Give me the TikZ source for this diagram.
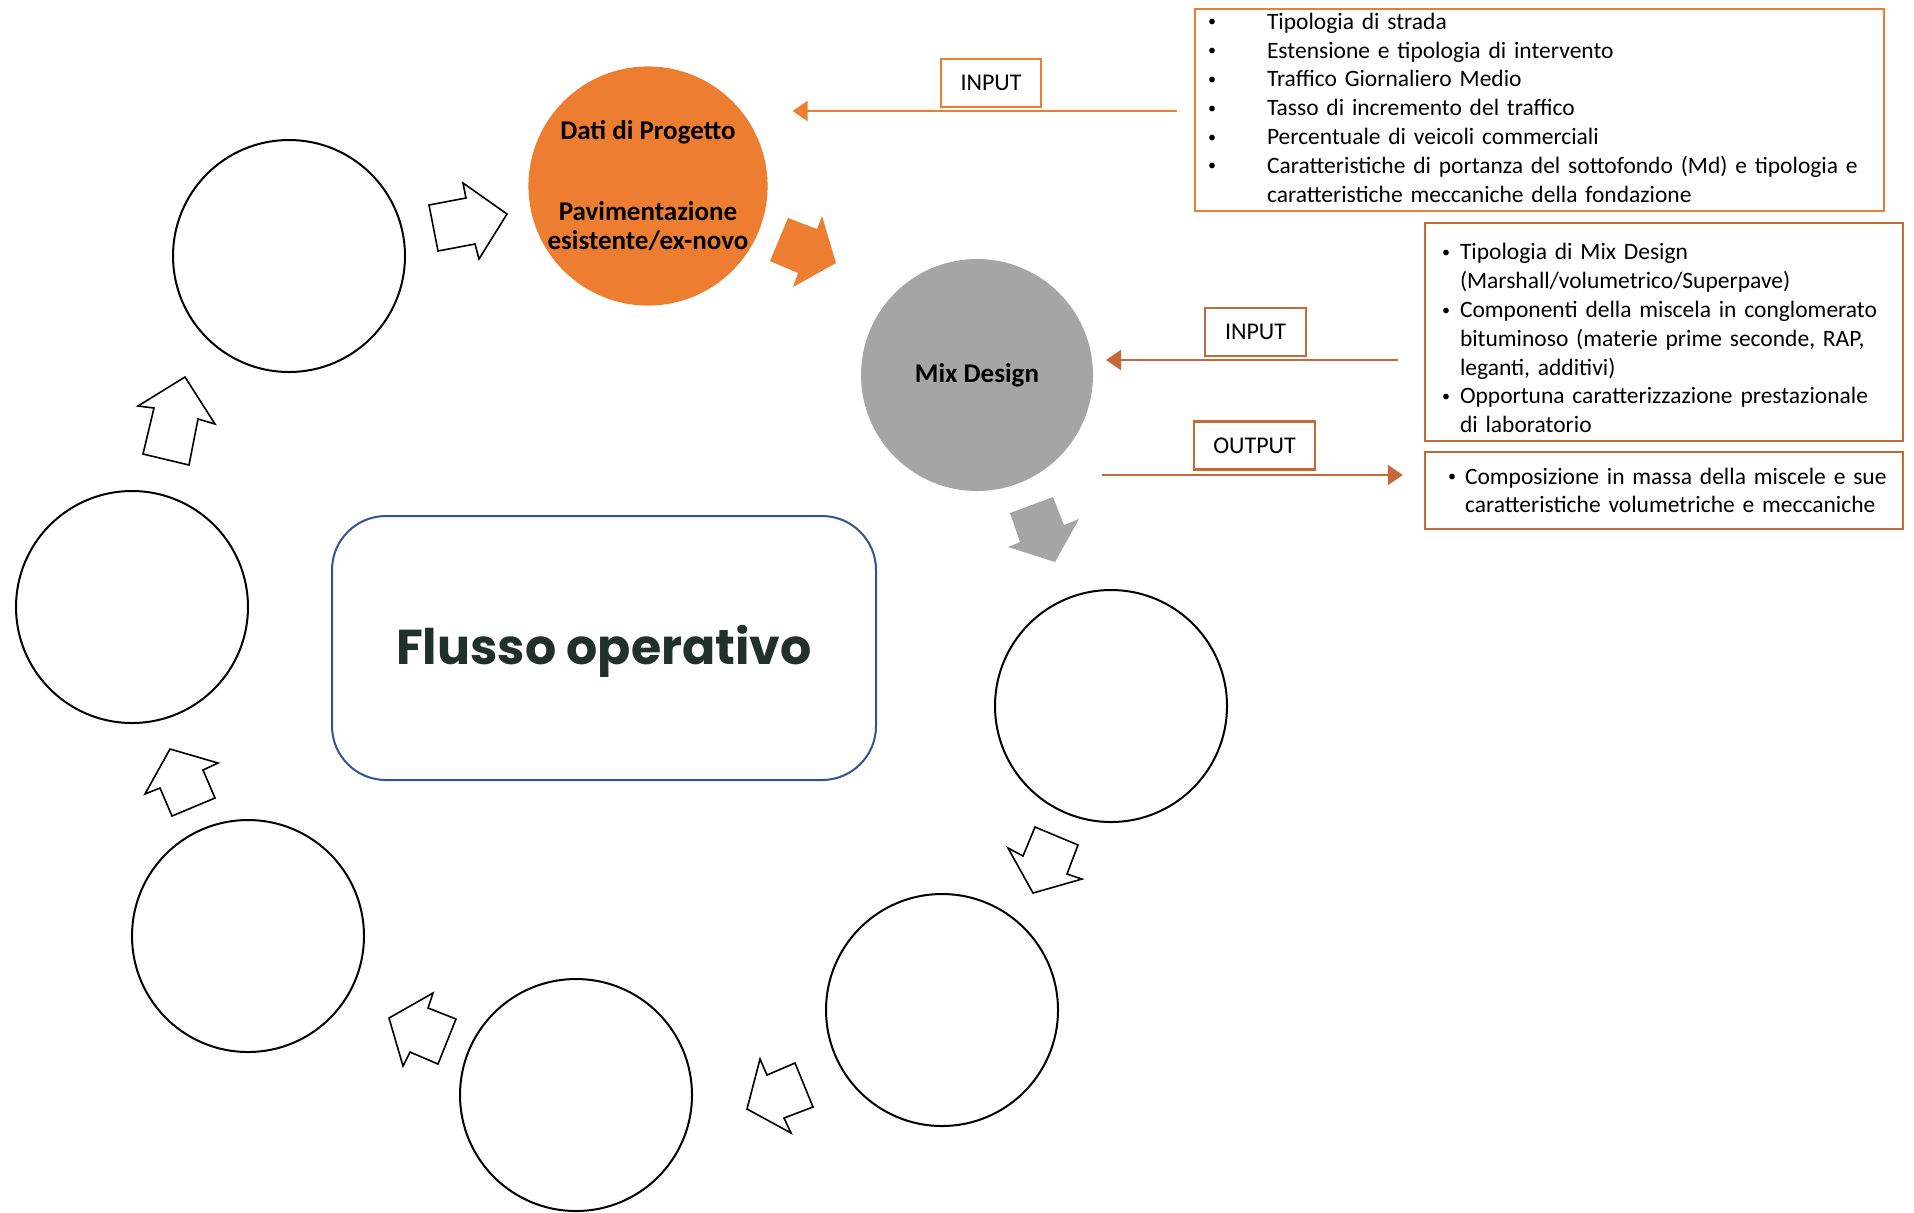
\documentclass[tikz,border=0pt]{standalone}
\usepackage{fontspec}
\setmainfont{Carlito}
\newfontfamily\flussofont{Poppins}
\usetikzlibrary{arrows.meta}

\definecolor{datiorange}{HTML}{ED7D31}
\definecolor{mixgray}{HTML}{A5A5A5}
\definecolor{rustorange}{HTML}{C5693A}
\definecolor{flussoblue}{HTML}{2F5597}
\definecolor{flussotext}{HTML}{22302A}

\newcommand{\listdot}{\raisebox{1.2pt}{\fontsize{8pt}{8pt}\selectfont\textbullet}}
\newcommand{\bullitem}[2]{\hangindent=#1\hangafter=1\noindent\makebox[#1][l]{\listdot}#2\par}

\begin{document}
\begin{tikzpicture}[x=0.5pt,y=0.5pt]
	\tikzstyle{phase}=[circle,draw=black,line width=1pt,minimum size=116pt,inner sep=0pt]
	\tikzstyle{keyphase}=[phase,draw=none,align=center,font=\bfseries\fontsize{13.5pt}{14.65pt}\selectfont]
	\tikzstyle{datalist}=[draw,line width=1.2pt,align=left,font=\fontsize{11.75pt}{14.4pt}\selectfont]
	\tikzstyle{tag}=[draw,line width=1.2pt,minimum height=24pt,inner sep=0pt,font=\fontsize{12pt}{14pt}\selectfont]
	\tikzstyle{feed}=[line width=1.2pt,-{Triangle[length=7.5pt,width=10pt]}]
	\tikzstyle{turn}=[draw=black,line width=0.8pt,fill=white]

	\useasboundingbox (0,0) rectangle (1914,-1212);

	\node[keyphase,fill=datiorange] (dati) at (648,-186) {Dati di Progetto\\[25.6pt]Pavimentazione\\esistente/ex-novo};
	\node[keyphase,fill=mixgray] (mix) at (977,-375) {Mix Design};
	\node[phase] (c1) at (289,-256) {};
	\node[phase] (c2) at (132,-607) {};
	\node[phase] (c3) at (248,-936) {};
	\node[phase] (c4) at (576,-1095) {};
	\node[phase] (c5) at (942,-1010) {};
	\node[phase] (c6) at (1111,-706) {};

	\node[draw=flussoblue,line width=1pt,rounded corners=27pt,minimum width=272pt,minimum height=132pt,text=flussotext,text height=23pt,font=\flussofont\bfseries\fontsize{24.5pt}{28pt}\selectfont] (flusso) at (604,-648) {Flusso operativo};

	\node[datalist,draw=datiorange,text width=331.5pt,inner xsep=6.5pt,inner ysep=1pt,minimum height=101pt] (datiin) at (1539.5,-110) {%
		\bullitem{29.5pt}{Tipologia di strada}
		\bullitem{29.5pt}{Estensione e tipologia di intervento}
		\bullitem{29.5pt}{Traffico Giornaliero Medio}
		\bullitem{29.5pt}{Tasso di incremento del traffico}
		\bullitem{29.5pt}{Percentuale di veicoli commerciali}
		\bullitem{29.5pt}{Caratteristiche di portanza del sottofondo (Md) e tipologia e\newline caratteristiche meccaniche della fondazione\rule[-2.5pt]{0pt}{0pt}}};
	\node[datalist,draw=rustorange,text width=222pt,inner xsep=8.5pt,inner ysep=1pt,minimum height=109pt] (mixin) at (1664,-332) {%
		\bullitem{9pt}{\rule{0pt}{14.3pt}Tipologia di Mix Design\newline (Marshall/volumetrico/Superpave)}
		\bullitem{9pt}{Componenti della miscela in conglomerato\newline bituminoso (materie prime seconde, RAP,\newline leganti, additivi)}
		\bullitem{9pt}{Opportuna caratterizzazione prestazionale\newline di laboratorio}};
	\node[datalist,draw=rustorange,text width=231pt,inner xsep=4pt,inner ysep=1pt,minimum height=38.5pt] (mixout) at (1664,-490.5) {%
		\leftskip=7.5pt
		\bullitem{8.5pt}{Composizione in massa della miscele e sue\newline caratteristiche volumetriche e meccaniche}};

	\node[tag,draw=datiorange,minimum width=50pt] (in1) at (991,-83) {INPUT};
	\node[tag,draw=rustorange,minimum width=50.5pt] (in2) at (1255.5,-332) {INPUT};
	\node[tag,draw=rustorange,minimum width=60.5pt] (out) at (1254.5,-445.5) {OUTPUT};

	\draw[feed,datiorange] ([xshift=-8.5pt,yshift=-0.5pt]datiin.west) -- ([xshift=12pt,yshift=37.5pt]dati.east);
	\draw[feed,rustorange] ([xshift=-13pt,yshift=-14pt]mixin.west) -- ([xshift=6pt,yshift=7.5pt]mix.east);
	\draw[feed,rustorange] ([xshift=4pt,yshift=-50pt]mix.east) -- ([xshift=-10.5pt,yshift=7.75pt]mixout.west);

	\fill[datiorange] (788,-218) -- (817,-229) -- (822,-216) -- (836,-263) -- (793,-287) -- (798,-273) -- (770,-261) -- cycle;
	\fill[mixgray] (1010,-513) -- (1053,-497) -- (1064,-525) -- (1079,-519) -- (1055,-562) -- (1008,-547) -- (1020,-542) -- cycle;

	\draw[turn] (429,-205) -- (466,-198) -- (463,-183) -- (507,-214) -- (479,-259) -- (475,-244) -- (438,-251) -- cycle;
	\draw[turn] (185,-377) -- (215,-424) -- (198,-419) -- (189,-465) -- (143,-454) -- (154,-408) -- (138,-406) -- cycle;
	\draw[turn] (170,-749) -- (218,-763) -- (203,-770) -- (215,-798) -- (172,-816) -- (160,-788) -- (145,-794) -- cycle;
	\draw[turn] (389,-1018) -- (433,-993) -- (428,-1008) -- (456,-1019) -- (438,-1064) -- (410,-1052) -- (403,-1066) -- cycle;
	\draw[turn] (760,-1059) -- (767,-1075) -- (795,-1063) -- (813,-1107) -- (784,-1118) -- (791,-1133) -- (747,-1109) -- cycle;
	\draw[turn] (1035,-827) -- (1078,-845) -- (1067,-874) -- (1082,-879) -- (1033,-893) -- (1008,-848) -- (1023,-856) -- cycle;
\end{tikzpicture}
\end{document}
